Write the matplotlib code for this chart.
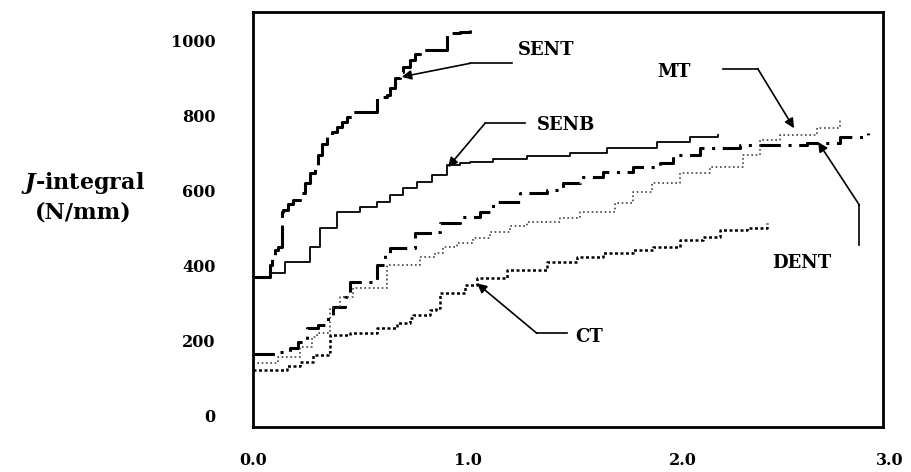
"""
J-R curves for five specimen geometries (SENT, SENB, MT, DENT, CT).
"""

import matplotlib
matplotlib.use("Agg")
import matplotlib.pyplot as plt

plt.rcParams['font.family'] = ['DejaVu Serif']
plt.rcParams['mathtext.fontset'] = 'custom'
plt.rcParams['mathtext.it'] = 'DejaVu Serif:italic:bold'
plt.rcParams['mathtext.rm'] = 'DejaVu Serif:bold'

# crack growth (mm) and J (N/mm), step points
sent_x = [0.0, 0.079, 0.087, 0.102, 0.118, 0.133, 0.141, 0.164, 0.187, 0.219, 0.242, 0.265, 0.288,
          0.304, 0.320, 0.343, 0.366, 0.389, 0.413, 0.436, 0.459, 0.575, 0.622, 0.637, 0.660, 0.684,
          0.699, 0.730, 0.753, 0.777, 0.901, 0.963, 1.009]
sent_j = [368, 400, 422, 440, 449, 542, 547, 564, 573, 591, 618, 645, 667,
          693, 724, 742, 755, 769, 782, 795, 809, 849, 853, 871, 898, 915,
          929, 947, 964, 973, 1018, 1022, 1027]

senb_x = [0.0, 0.079, 0.149, 0.265, 0.312, 0.389, 0.498, 0.575, 0.637, 0.699, 0.761, 0.831, 0.901,
          0.963, 1.009, 1.116, 1.274, 1.474, 1.645, 1.878, 2.033, 2.163]
senb_j = [369, 378, 409, 449, 498, 542, 555, 569, 587, 605, 622, 640, 667,
          671, 675, 682, 691, 700, 712, 728, 742, 747]

dent_x = [0.0, 0.102, 0.172, 0.211, 0.250, 0.304, 0.350, 0.373, 0.428, 0.451, 0.575, 0.614, 0.637,
          0.753, 0.831, 0.870, 0.963, 1.056, 1.118, 1.242, 1.366, 1.443, 1.521, 1.629, 1.769, 1.893,
          1.953, 2.079, 2.265, 2.575, 2.730, 2.862]
dent_j = [164, 169, 178, 195, 231, 240, 267, 289, 315, 355, 400, 427, 445,
          485, 489, 511, 529, 542, 569, 591, 600, 618, 635, 649, 662, 671,
          693, 712, 720, 725, 742, 751]

mt_x = [0.0, 0.118, 0.219, 0.273, 0.300, 0.358, 0.397, 0.405, 0.467, 0.622, 0.777, 0.847, 0.885,
        0.947, 1.025, 1.102, 1.195, 1.273, 1.428, 1.521, 1.684, 1.769, 1.854, 1.986, 2.126, 2.280,
        2.358, 2.451, 2.622, 2.730]
mt_j = [138, 155, 182, 209, 218, 285, 289, 315, 338, 400, 422, 431, 449,
        458, 471, 489, 504, 515, 525, 542, 565, 595, 618, 645, 662, 693,
        733, 747, 765, 787]

ct_x = [0.0, 0.160, 0.219, 0.279, 0.350, 0.358, 0.451, 0.575, 0.668, 0.730, 0.746, 0.823, 0.850,
        0.870, 0.986, 1.040, 1.180, 1.366, 1.506, 1.629, 1.769, 1.862, 1.986, 2.094, 2.172, 2.296,
        2.389]
ct_j = [120, 130, 142, 160, 169, 213, 218, 231, 245, 258, 267, 280, 285,
        325, 347, 365, 387, 409, 422, 431, 440, 449, 467, 475, 493, 498,
        511]

y_ticks = [0, 200, 400, 600, 800, 1000]
x_ticks = [0.0, 1.0, 2.0]
x_tick_labels = ['0.0', '1.0', '2.0']

fig = plt.figure(figsize=(9.11, 4.72), dpi=100)
ax = fig.add_axes([0.2777, 0.0953, 0.6916, 0.8793])

ax.plot(sent_x, sent_j, drawstyle='steps-post', color='k', lw=2.2, ls=(0, (12, 2.5)))
ax.plot(senb_x, senb_j, drawstyle='steps-post', color='k', lw=1.3)
ax.plot(dent_x, dent_j, drawstyle='steps-post', color='k', lw=2.2, ls=(0, (7, 2.5, 1, 2.5)))
ax.plot(mt_x, mt_j, drawstyle='steps-post', color='#444444', lw=1.2, ls=(0, (1, 1.6)))
ax.plot(ct_x, ct_j, drawstyle='steps-post', color='k', lw=1.8, ls=(0, (1.2, 1.0)))

# labels with leader lines and arrowheads
arrow = dict(arrowstyle='-|>', color='k', lw=1.2, mutation_scale=14, shrinkA=0, shrinkB=0)
leaders = [
    ('SENT', (1.233, 973), [1.205, 1.009], [938, 938], (0.692, 902)),
    ('SENB', (1.320, 773), [1.265, 1.079], [778, 778], (0.907, 661)),
    ('MT', (1.878, 915), [2.187, 2.347], [924, 924], (2.516, 765)),
    ('DENT', (2.413, 405), [2.820, 2.820], [453, 560], (2.628, 728)),
    ('CT', (1.498, 209), [1.459, 1.320], [218, 218], (1.042, 351)),
]
for name, pos, lx, ly, tip in leaders:
    ax.text(pos[0], pos[1], name, fontsize=13, fontweight='bold', va='center', ha='left')
    ax.plot(lx, ly, color='k', lw=1.2)
    ax.annotate('', xy=tip, xytext=(lx[1], ly[1]), arrowprops=arrow)

ax.set_xlim(0, 2.93)
ax.set_ylim(-32, 1075)
ax.set_yticks(y_ticks)
ax.set_xticks(x_ticks)
ax.set_xticklabels(x_tick_labels)
ax.tick_params(length=0, labelsize=11.5)
ax.tick_params(axis='y', pad=27)
ax.tick_params(axis='x', pad=18)
for lab in ax.get_xticklabels() + ax.get_yticklabels():
    lab.set_fontweight('bold')
ax.annotate('3.0', xy=(3.0, 0), xycoords=('data', 'axes fraction'), xytext=(-6, -18),
            textcoords='offset points', fontsize=11.5, fontweight='bold',
            ha='center', va='top', annotation_clip=False)
for s in ax.spines.values():
    s.set_linewidth(2.0)

fig.text(0.0911, 0.612, '$J$-integral', fontsize=16, fontweight='bold', ha='center', va='center')
fig.text(0.0911, 0.549, '(N/mm)', fontsize=16, fontweight='bold', ha='center', va='center')

fig.savefig('out.png', dpi=100)
